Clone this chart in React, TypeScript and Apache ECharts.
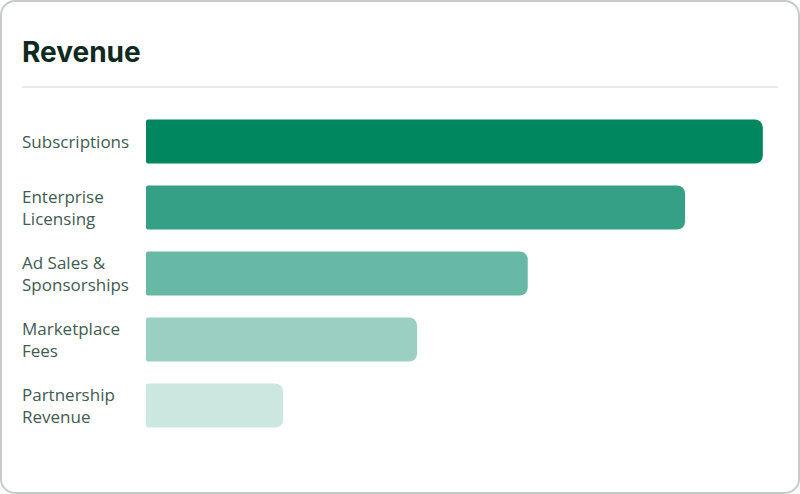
import React, { useEffect, useRef } from "react";
import * as echarts from "echarts";

const categories = [
  "Subscriptions",
  "Enterprise\nLicensing",
  "Ad Sales &\nSponsorships",
  "Marketplace\nFees",
  "Partnership\nRevenue",
];
const values = [97.6, 85.3, 60.4, 42.9, 21.7];
const barColors = ["#00875f", "#35a085", "#67b8a4", "#9acfc1", "#cce7df"];

export default function App() {
  const ref = useRef<HTMLDivElement>(null);
  useEffect(() => {
    if (!ref.current) return;
    const chart = echarts.init(ref.current, undefined, { renderer: "svg" });
    chart.setOption({
      animation: false,
      backgroundColor: "#ffffff",
      title: {
        text: "Revenue",
        left: 17,
        top: 33,
        textStyle: {
          fontFamily: "Inter",
          fontWeight: "bold",
          fontSize: 28,
          color: "#0f2a1f",
        },
      },
      graphic: [
        {
          type: "rect",
          shape: { x: 1, y: 1, width: 798, height: 492, r: 14 },
          style: { fill: "none", stroke: "#c5ccc9", lineWidth: 2 },
          silent: true,
        },
        {
          type: "line",
          shape: { x1: 22, y1: 87, x2: 778, y2: 87 },
          style: { stroke: "#e2e5e7", lineWidth: 1.5 },
          silent: true,
        },
      ],
      grid: { left: 146, right: 22, top: 108.5, height: 330 },
      xAxis: {
        type: "value",
        min: 0,
        max: 100,
        show: false,
      },
      yAxis: {
        type: "category",
        data: categories,
        inverse: true,
        axisLine: { show: false },
        axisTick: { show: false },
        splitLine: { show: false },
        axisLabel: {
          align: "left",
          margin: 124,
          fontFamily: "Open Sans",
          fontSize: 17,
          lineHeight: 22,
          color: "#3f5b53",
        },
      },
      series: [
        {
          type: "bar",
          barWidth: 44,
          data: values.map((v, i) => ({
            value: v,
            itemStyle: { color: barColors[i] },
          })),
          itemStyle: { borderRadius: [2, 8, 8, 2] },
        },
      ],
    });
    return () => chart.dispose();
  }, []);
  return (
    <div style={{ position: "fixed", left: 0, top: 0 }}>
      <div ref={ref} style={{ width: 800, height: 494 }} />
    </div>
  );
}
